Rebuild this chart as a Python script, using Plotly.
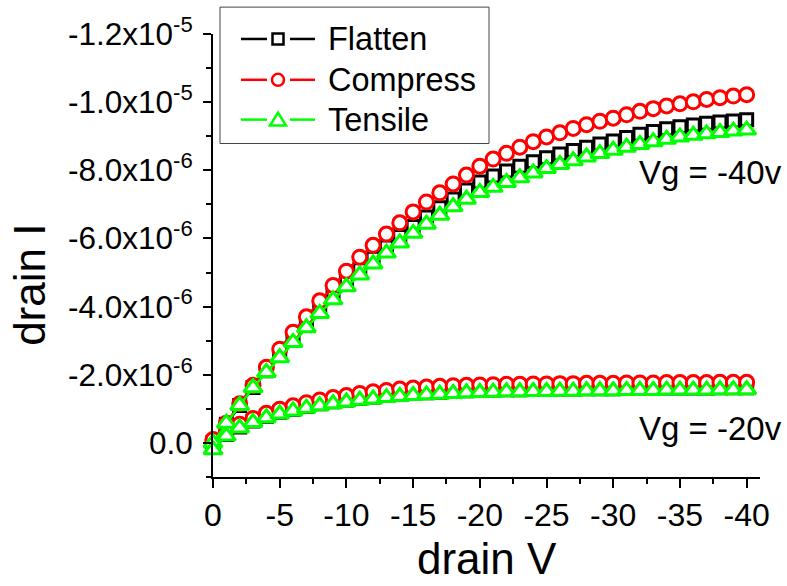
import plotly.graph_objects as go

# Drain voltage sweep (V)
drain_v = [0, -1, -2, -3, -4, -5, -6, -7, -8, -9, -10,
           -11, -12, -13, -14, -15, -16, -17, -18, -19, -20,
           -21, -22, -23, -24, -25, -26, -27, -28, -29, -30,
           -31, -32, -33, -34, -35, -36, -37, -38, -39, -40]

# Drain current in microamps, Vg = -40 V
flatten_vg40 = [0.0, -0.55, -1.10, -1.63, -2.12, -2.58, -3.04, -3.48, -3.92, -4.33, -4.72,
                -5.08, -5.42, -5.75, -6.06, -6.35, -6.63, -6.90, -7.16, -7.42, -7.66,
                -7.83, -7.98, -8.12, -8.25, -8.37, -8.48, -8.58, -8.68, -8.77, -8.86,
                -8.96, -9.06, -9.14, -9.22, -9.28, -9.33, -9.38, -9.42, -9.45, -9.48]
compress_vg40 = [-0.05, -0.58, -1.15, -1.69, -2.22, -2.75, -3.25, -3.70, -4.17, -4.62, -5.04,
                 -5.45, -5.80, -6.13, -6.46, -6.78, -7.07, -7.34, -7.60, -7.86, -8.12,
                 -8.33, -8.50, -8.68, -8.84, -8.98, -9.10, -9.23, -9.34, -9.44, -9.53,
                 -9.63, -9.73, -9.81, -9.89, -9.95, -10.01, -10.08, -10.13, -10.18, -10.22]
tensile_vg40 = [0.0, -0.58, -1.10, -1.62, -2.07, -2.50, -2.95, -3.38, -3.80, -4.20, -4.58,
                -4.93, -5.25, -5.57, -5.87, -6.15, -6.42, -6.68, -6.93, -7.15, -7.35,
                -7.50, -7.64, -7.78, -7.92, -8.05, -8.17, -8.28, -8.39, -8.49, -8.59,
                -8.68, -8.76, -8.84, -8.91, -8.98, -9.03, -9.07, -9.11, -9.15, -9.18]

# Drain current in microamps, Vg = -20 V
flatten_vg20 = [0.0, -0.25, -0.47, -0.64, -0.78, -0.90, -0.99, -1.07, -1.15, -1.21, -1.26,
                -1.31, -1.35, -1.39, -1.42, -1.45, -1.47, -1.49, -1.51, -1.53, -1.54,
                -1.55, -1.56, -1.56, -1.57, -1.57, -1.58, -1.58, -1.59, -1.59, -1.59,
                -1.60, -1.60, -1.60, -1.61, -1.61, -1.61, -1.61, -1.62, -1.62, -1.62]
compress_vg20 = [-0.10, -0.32, -0.55, -0.72, -0.87, -0.99, -1.09, -1.18, -1.26, -1.33, -1.39,
                 -1.45, -1.50, -1.54, -1.58, -1.61, -1.64, -1.66, -1.68, -1.69, -1.70,
                 -1.71, -1.72, -1.72, -1.73, -1.73, -1.74, -1.74, -1.75, -1.75, -1.75,
                 -1.76, -1.76, -1.76, -1.77, -1.77, -1.77, -1.77, -1.78, -1.78, -1.78]
tensile_vg20 = [0.20, -0.20, -0.44, -0.60, -0.74, -0.85, -0.94, -1.02, -1.09, -1.15, -1.20,
                -1.25, -1.29, -1.33, -1.36, -1.39, -1.41, -1.43, -1.45, -1.47, -1.48,
                -1.49, -1.50, -1.50, -1.51, -1.51, -1.52, -1.52, -1.53, -1.53, -1.53,
                -1.54, -1.54, -1.54, -1.55, -1.55, -1.55, -1.55, -1.56, -1.56, -1.56]

# Axis ticks
x_tickvals = [0, -5, -10, -15, -20, -25, -30, -35, -40]
x_ticktext = ["0", "-5", "-10", "-15", "-20", "-25", "-30", "-35", "-40"]
x_minor = [-2.5, -7.5, -12.5, -17.5, -22.5, -27.5, -32.5, -37.5]
y_tickvals = [0.0, -2.0e-6, -4.0e-6, -6.0e-6, -8.0e-6, -1.0e-5, -1.2e-5]
y_ticktext = ["0.0", "-2.0x10<sup>-6</sup>", "-4.0x10<sup>-6</sup>", "-6.0x10<sup>-6</sup>",
              "-8.0x10<sup>-6</sup>", "-1.0x10<sup>-5</sup>", "-1.2x10<sup>-5</sup>"]
y_minor = [1.0e-6, -1.0e-6, -3.0e-6, -5.0e-6, -7.0e-6, -9.0e-6, -1.1e-5]

series_names = ["Flatten", "Compress", "Tensile"]
gate_labels = ["Vg = -40v", "Vg = -20v"]

FONT = "Arial, Liberation Sans, sans-serif"
W, H = 787, 586
L, R, T, B = 213, 27, 32, 109
PW, PH = W - L - R, H - T - B

styles = {
    "Flatten": dict(color="#000000", symbol="square", size=12),
    "Compress": dict(color="#FF0000", symbol="circle", size=14),
    "Tensile": dict(color="#00FF00", symbol="triangle-up", size=16),
}
curves = {
    "Flatten": (flatten_vg40, flatten_vg20),
    "Compress": (compress_vg40, compress_vg20),
    "Tensile": (tensile_vg40, tensile_vg20),
}

fig = go.Figure()
for name in series_names:
    st = styles[name]
    for ua in curves[name]:
        fig.add_trace(go.Scatter(
            x=drain_v, y=[v * 1e-6 for v in ua], mode="lines+markers", name=name,
            showlegend=False, cliponaxis=False,
            line=dict(color=st["color"], width=2.5),
            marker=dict(symbol=st["symbol"], size=st["size"], color="white",
                        line=dict(color=st["color"], width=3)),
        ))


def px(x):
    return (x - L) / PW


def py(y):
    return (H - B - y) / PH


shapes = []
annotations = []

# Legend frame
shapes.append(dict(type="rect", xref="paper", yref="paper", x0=px(220), x1=px(489),
                   y0=py(142), y1=py(5), line=dict(color="#444444", width=1),
                   fillcolor="white", layer="above"))
row_y = [37, 78, 118]
for name, ry in zip(series_names, row_y):
    st = styles[name]
    c = st["color"]
    for x0, x1 in [(241, 267), (290, 315)]:
        shapes.append(dict(type="line", xref="paper", yref="paper", x0=px(x0), x1=px(x1),
                           y0=py(ry), y1=py(ry), line=dict(color=c, width=2.5), layer="above"))
    cx = 278
    if st["symbol"] == "square":
        shapes.append(dict(type="rect", xref="paper", yref="paper", x0=px(cx - 5.5), x1=px(cx + 5.5),
                           y0=py(ry + 5.5), y1=py(ry - 5.5), line=dict(color=c, width=2.5),
                           fillcolor="white", layer="above"))
    elif st["symbol"] == "circle":
        shapes.append(dict(type="circle", xref="paper", yref="paper", x0=px(cx - 6), x1=px(cx + 6),
                           y0=py(ry + 6), y1=py(ry - 6), line=dict(color=c, width=2.5),
                           fillcolor="white", layer="above"))
    else:
        path = "M {a},{b} L {c},{d} L {e},{f} Z".format(
            a=px(cx - 8), b=py(ry + 6), c=px(cx + 8), d=py(ry + 6), e=px(cx), f=py(ry - 7))
        shapes.append(dict(type="path", xref="paper", yref="paper", path=path,
                           line=dict(color=c, width=2.5), fillcolor="white", layer="above"))
    annotations.append(dict(xref="paper", yref="paper", x=px(326), y=py(ry), text=name,
                            showarrow=False, xanchor="left", yanchor="middle",
                            font=dict(family=FONT, size=32.5, color="black")))

# Gate-voltage labels
annotations.append(dict(xref="paper", yref="paper", x=px(784), y=py(171), text=gate_labels[0],
                        showarrow=False, xanchor="right", yanchor="middle",
                        font=dict(family=FONT, size=33, color="black")))
annotations.append(dict(xref="paper", yref="paper", x=px(784), y=py(428), text=gate_labels[1],
                        showarrow=False, xanchor="right", yanchor="middle",
                        font=dict(family=FONT, size=33, color="black")))

# Axis titles
annotations.append(dict(xref="paper", yref="paper", x=px(487), y=py(585), text="drain V",
                        showarrow=False, xanchor="center", yanchor="bottom",
                        font=dict(family=FONT, size=44, color="black")))
annotations.append(dict(xref="paper", yref="paper", x=px(30), y=py(284), text="drain I",
                        showarrow=False, xanchor="center", yanchor="middle", textangle=-90,
                        font=dict(family=FONT, size=44, color="black")))

fig.update_layout(
    width=W, height=H,
    margin=dict(l=L, r=R, t=T, b=B),
    paper_bgcolor="white", plot_bgcolor="white",
    font=dict(family=FONT, color="black"),
    showlegend=False,
    shapes=shapes, annotations=annotations,
    xaxis=dict(range=[0, -41], showline=True, linecolor="black", linewidth=2,
               ticks="outside", ticklen=9, tickwidth=2, tickcolor="black",
               tickvals=x_tickvals, ticktext=x_ticktext, tickfont=dict(size=32),
               showgrid=False, zeroline=False,
               minor=dict(tickvals=x_minor, ticks="outside", ticklen=5, tickwidth=2,
                          tickcolor="black", showgrid=False)),
    yaxis=dict(range=[1.0e-6, -1.2e-5], showline=True, linecolor="black", linewidth=2,
               ticks="outside", ticklen=8, tickwidth=2, tickcolor="black",
               tickvals=y_tickvals, ticktext=y_ticktext, tickfont=dict(size=31.5),
               ticklabelstandoff=4,
               showgrid=False, zeroline=False,
               minor=dict(tickvals=y_minor, ticks="outside", ticklen=5, tickwidth=2,
                          tickcolor="black", showgrid=False)),
)

fig.write_html("out.html")
